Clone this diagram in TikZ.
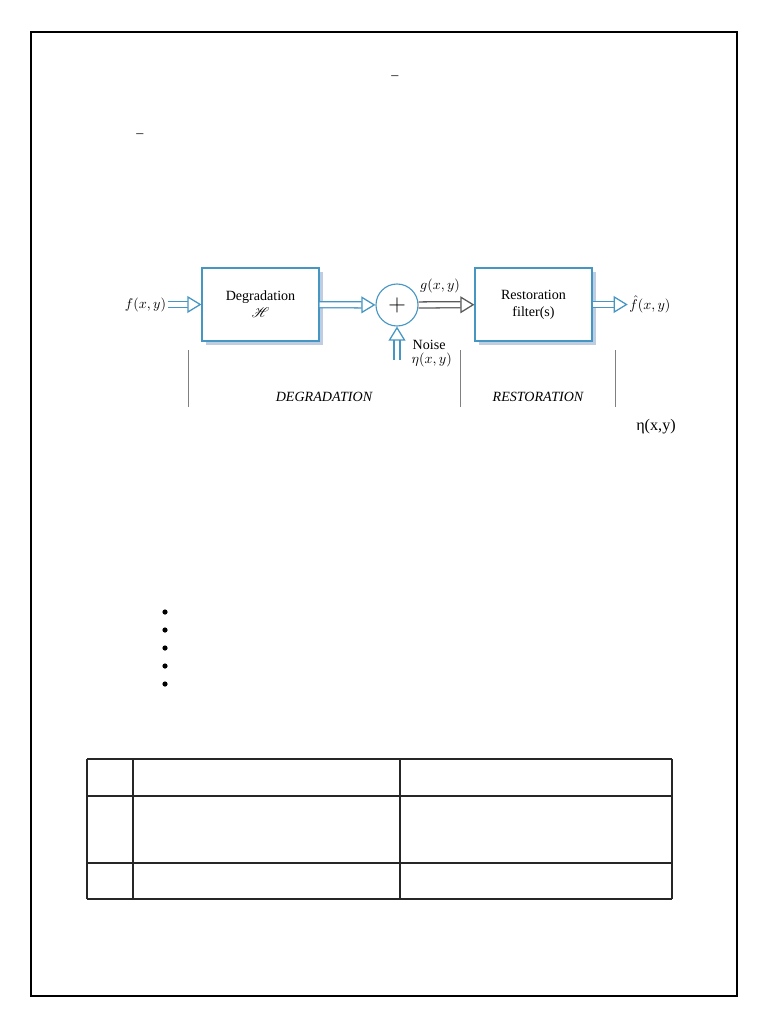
\documentclass[tikz,border=0pt]{standalone}
\usepackage{fontspec}
\setmainfont{Liberation Serif}
\usepackage{mathrsfs}
\usetikzlibrary{arrows.meta, positioning, shadows}
\definecolor{boxblue}{RGB}{70,150,195}
\definecolor{shadowblue}{RGB}{190,205,225}
\definecolor{arrowgray}{RGB}{90,90,90}

\begin{document}
\begin{tikzpicture}[
    x=0.025cm, y=-0.025cm,
    block/.style={rectangle, draw=boxblue, line width=0.8pt, fill=white, minimum width=2.925cm, minimum height=1.825cm, align=center, font=\normalsize,
      drop shadow={shadow xshift=0.9mm, shadow yshift=-0.9mm, fill=shadowblue, opacity=1}},
    summer/.style={circle, draw=boxblue, line width=0.8pt, minimum size=1.05cm, inner sep=0pt, font=\LARGE},
    hollow/.style={draw=boxblue, line width=0.9pt, double=white, double distance=3.4pt, -{Triangle[open, fill=white, length=10pt, width=12pt, line width=0.9pt]}},
    label/.style={inner sep=1pt, font=\normalsize},
    divider/.style={draw=gray, line width=0.7pt},
    grid/.style={draw=black!85, line width=1pt}
]
\useasboundingbox (0,0) rectangle (768,1024);

% Page frame
\draw[line width=0.8pt] (31,32) rectangle (737,996);

% Stray dashes
\node[label] (dashA) at (395,78) {--};
\node[label] (dashB) at (140,136) {--};

% Nodes
\node[block] (degr) at (260.5,304.5) {Degradation\\$\mathscr{H}$};
\node[summer] (sum) at (397,305) {$+$};
\node[block] (restore) at (533.5,304.5) {Restoration\\filter(s)};
\node[label, left=24pt of degr.west] (fxy) {$f(x,y)$};
\node[label, right=25pt of restore.east] (fhat) {$\hat{f}(x,y)$};
\node[label] (gxy) at (440,286) {$g(x,y)$};
\coordinate (noisein) at (397,360);
\node[label, anchor=south west] (noise) at (411,351) {Noise};
\node[label, anchor=north west] (eta) at (410,351) {$\eta(x,y)$};

% Edges
\draw[hollow] (fxy) -- (degr);
\draw[hollow] (degr) -- (sum);
\draw[hollow, draw=arrowgray] (sum) -- (restore);
\draw[hollow] (restore) -- (fhat);
\draw[hollow] (noisein) -- (sum);

% Section dividers
\draw[divider] (188,350) -- (188,407);
\draw[divider] (460,350) -- (460,407);
\draw[divider] (615,350) -- (615,407);
\node[label, font=\normalsize\itshape] (degrlab) at (324,397) {DEGRADATION};
\node[label, font=\normalsize\itshape] (restlab) at (538,397) {RESTORATION};

% Stray symbol
\node[label, font=\fontsize{11.5}{13}\selectfont] (etaxy) at (656,427) {η(x,y)};

% Bullets
\foreach \y in {612,630,648,666,684}
  \fill (165,\y) circle (2.6);

% Table
\foreach \y in {759,796,863,899}
  \draw[grid] (87,\y) -- (672,\y);
\foreach \x in {87,133,400,672}
  \draw[grid] (\x,759) -- (\x,899);

\end{tikzpicture}
\end{document}
